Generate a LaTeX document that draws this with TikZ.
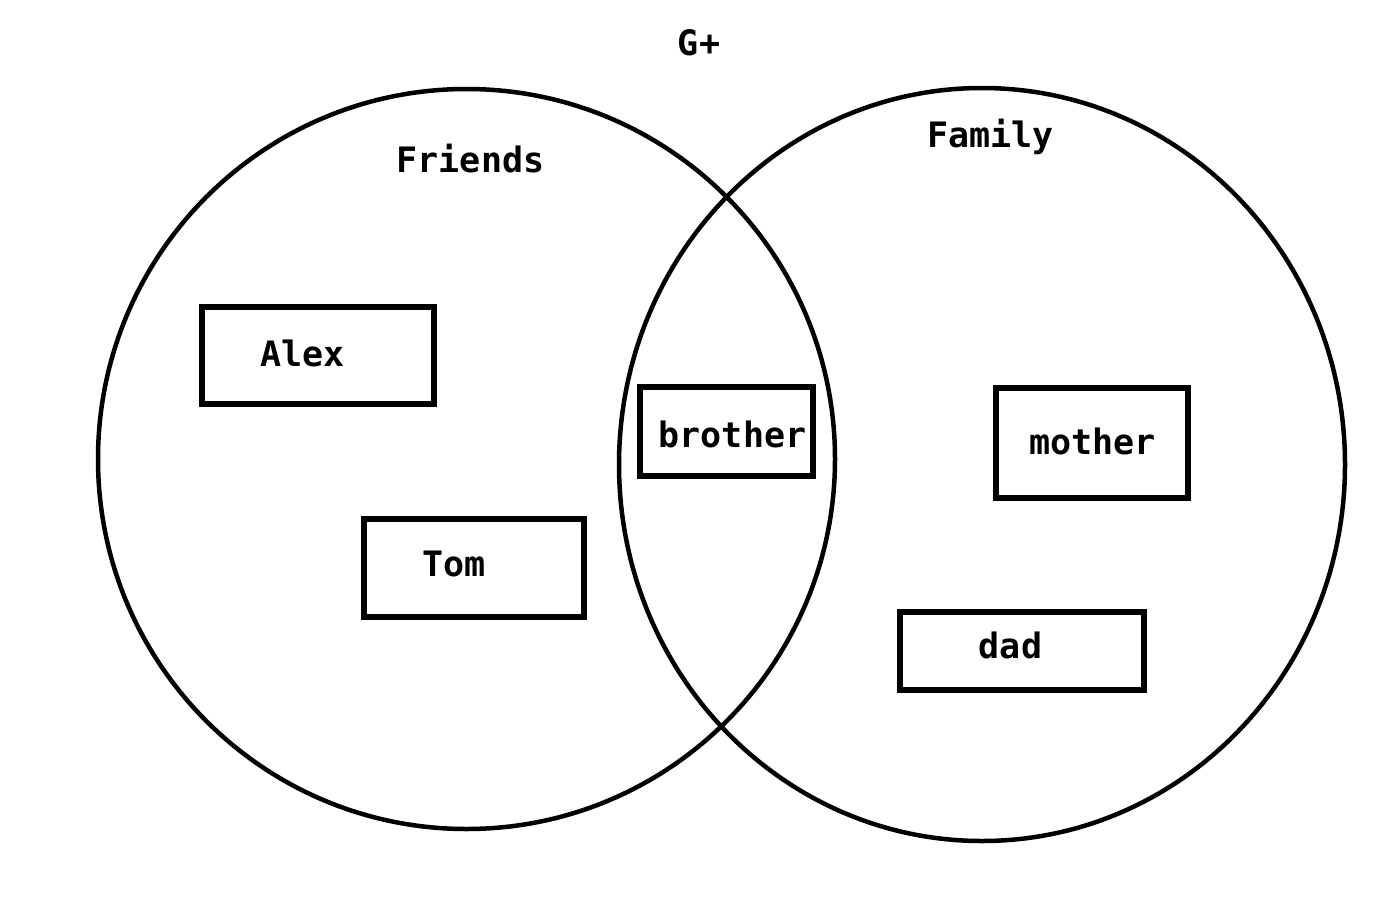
\documentclass[tikz,border=0pt]{standalone}
\usepackage{fontspec}
\newfontfamily\lblfont{DejaVu Sans Mono}
\begin{document}
\begin{tikzpicture}[x=1pt,y=-1pt,
  setline/.style={line width=4.5pt,draw=black},
  namebox/.style={draw=black,line width=5.5pt,rectangle,inner sep=0pt,fill=none},
  lbl/.style={anchor=base,inner sep=0pt,font=\lblfont\bfseries\fontsize{35}{42}\selectfont}]
\useasboundingbox (0,0) rectangle (1400,908);
\fill[white] (0,0) rectangle (1400,908);
% sets
\draw[setline] (466.5,459) ellipse [x radius=368.5, y radius=370];
\draw[setline] (982,464.5) ellipse [x radius=363, y radius=376.5];
% boxes
\node[namebox,minimum width=232pt,minimum height=97pt] (alexbox) at (318,355.5) {};
\node[namebox,minimum width=220pt,minimum height=98pt] (tombox) at (474,568) {};
\node[namebox,minimum width=173pt,minimum height=89pt] (brotherbox) at (726.5,431.5) {};
\node[namebox,minimum width=192pt,minimum height=110pt] (motherbox) at (1092,443) {};
\node[namebox,minimum width=244pt,minimum height=78pt] (dadbox) at (1022,651) {};
% labels
\node[lbl] (gplus) at (699,55) {G+};
\node[lbl] (friends) at (470.5,172) {Friends};
\node[lbl] (family) at (990.5,147) {Family};
\node[lbl] (alex) at (302.5,366) {Alex};
\node[lbl] (tom) at (454,576) {Tom};
\node[lbl] (brother) at (732.5,447) {brother};
\node[lbl] (mother) at (1092.5,454) {mother};
\node[lbl] (dad) at (1010.5,658) {dad};
\end{tikzpicture}
\end{document}
